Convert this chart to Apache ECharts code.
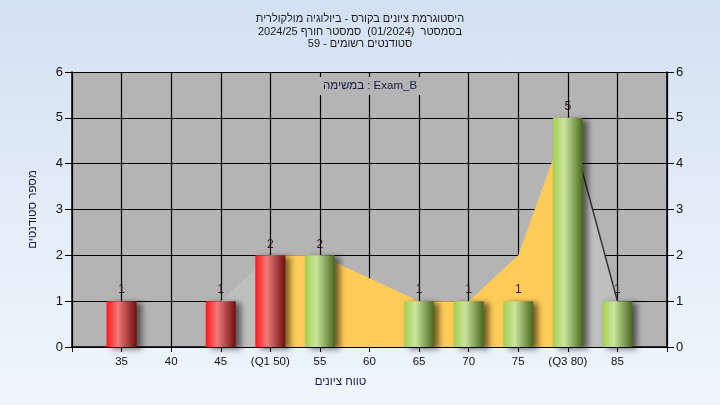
<!DOCTYPE html>
<html>
<head>
<meta charset="utf-8">
<script src="https://cdn.jsdelivr.net/npm/echarts@6/dist/echarts.min.js"></script>
<style>
html,body{margin:0;padding:0;}
#c{width:720px;height:405px;background:linear-gradient(to bottom,#d4e1f2 0%,#e4edf8 55%,#eef5fd 100%);}
</style>
</head>
<body>
<div id="c"></div>
<script>
// ---- data ----
const binValues = [35, 40, 45, 50, 55, 60, 65, 70, 75, 80, 85];
const counts    = [1, 0, 1, 2, 2, 0, 1, 1, 1, 5, 1];
const q1 = 50;
const q3 = 80;
const tickLabels = {35:'35',40:'40',45:'45',50:'(Q1 50)',55:'55',60:'60',65:'65',70:'70',75:'75',80:'(Q3 80)',85:'85'};
// distribution outline drawn behind the bars
const curveX      = [45, 50, 55, 60, 65, 70, 75, 80, 85];
const curveValues = [1, 2, 2, 1.5, 1, 1, 2, 5, 1];
const titleLines = ['היסטוגרמת ציונים בקורס - ביולוגיה מולקולרית', 'בסמסטר  (01/2024)  סמסטר חורף 2024/25', 'סטודנטים רשומים - 59'];
const legendText = 'במשימה : Exam_B';
const xAxisName = 'טווח ציונים';
const yAxisName = 'מספר סטודנטים';

// ---- build ----
const FONT = 'Liberation Sans, Arial, sans-serif';
const redGrad = {type:'linear',x:0,y:0,x2:1,y2:0,colorStops:[{offset:0,color:'#ff1818'},{offset:0.38,color:'#f07a7a'},{offset:1,color:'#6e0e0e'}]};
const greenGrad = {type:'linear',x:0,y:0,x2:1,y2:0,colorStops:[{offset:0,color:'#a2cf52'},{offset:0.38,color:'#cbe59c'},{offset:1,color:'#48681e'}]};

const barData = [];
binValues.forEach((v,i)=>{
  if (counts[i] > 0) barData.push({value:[v,counts[i]], itemStyle:{color: v <= q1 ? redGrad : greenGrad}});
});
const curve = curveX.map((x,i)=>[x,curveValues[i]]);
const mid = curve.filter(p=>p[0]>=q1 && p[0]<=q3);
const leftTail = curve.filter(p=>p[0]<=q1);
const rightTail = curve.filter(p=>p[0]>=q3);

const chart = echarts.init(document.getElementById('c'), null, {renderer:'canvas'});
chart.setOption({
  backgroundColor:'transparent',
  animation:false,
  textStyle:{fontFamily:FONT},
  title:[
    {text:titleLines.join('\n'), left:'center', top:8,
     textStyle:{fontSize:11, fontWeight:'normal', color:'#1a1a1a', lineHeight:12.5, fontFamily:FONT}},
    {text:legendText, left:319, top:77, backgroundColor:'#b4b4b4', padding:[3,4,3,4],
     textStyle:{fontSize:11.5, fontWeight:'normal', color:'#1a1a40', fontFamily:FONT}}
  ],
  grid:{left:72, right:53, top:72, bottom:58, show:true, backgroundColor:'#b4b4b4', borderWidth:0},
  xAxis:{
    type:'value', min:30, max:90, interval:5,
    name:xAxisName, nameLocation:'middle', nameGap:29,
    nameTextStyle:{fontSize:11.5, color:'#1a1a40', padding:[0,58,0,0], fontFamily:FONT},
    axisLine:{show:true, onZero:false, lineStyle:{color:'#000', width:1.5}},
    axisTick:{show:true, length:5, lineStyle:{color:'#000'}},
    splitLine:{show:true, lineStyle:{color:'#000', width:1.2}},
    axisLabel:{fontSize:11.5, color:'#111', margin:9, fontFamily:FONT,
      formatter:v=>tickLabels[v] || '', showMinLabel:true, showMaxLabel:true}
  },
  yAxis:[
    {type:'value', min:0, max:6, interval:1, position:'left',
     name:yAxisName, nameLocation:'middle', nameGap:33,
     nameTextStyle:{fontSize:11.5, color:'#1a1a40', fontFamily:FONT},
     axisLine:{show:true, lineStyle:{color:'#000', width:1.5}},
     axisTick:{show:true, length:7, lineStyle:{color:'#000'}},
     splitLine:{show:true, lineStyle:{color:'#000', width:1.2}},
     axisLabel:{fontSize:13, color:'#111', margin:9, fontFamily:FONT}},
    {type:'value', min:0, max:6, interval:1, position:'right',
     axisLine:{show:true, lineStyle:{color:'#000', width:1.5}},
     axisTick:{show:true, length:7, lineStyle:{color:'#000'}},
     splitLine:{show:false},
     axisLabel:{fontSize:13, color:'#111', margin:9, fontFamily:FONT}}
  ],
  series:[
    {type:'line', data:leftTail, symbol:'none', z:1,
     lineStyle:{width:0}, areaStyle:{color:'#bfbfbf', opacity:1}},
    {type:'line', data:mid, symbol:'none', z:1,
     lineStyle:{width:0}, areaStyle:{color:'#ffcc58', opacity:1}},
    {type:'line', data:rightTail, symbol:'none', z:1,
     lineStyle:{width:1.5, color:'#333'}, areaStyle:{color:'#bfbfbf', opacity:1}},
    {type:'bar', data:barData, barWidth:30, z:3,
     itemStyle:{shadowColor:'rgba(0,0,0,0.55)', shadowBlur:6, shadowOffsetX:5, shadowOffsetY:2},
     label:{show:true, position:'top', distance:5, fontSize:12, color:'#2a1a1a', fontFamily:FONT,
       formatter:p=>p.value[1]}}
  ]
});
</script>
</body>
</html>
